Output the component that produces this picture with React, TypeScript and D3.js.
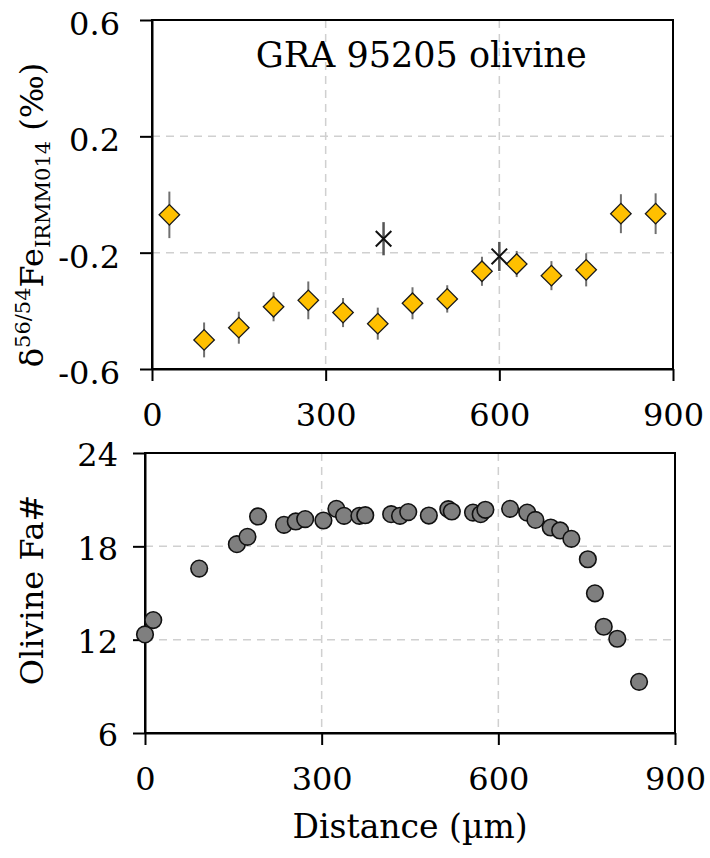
import { useRef, useEffect } from 'react';
import * as d3 from 'd3';

// top panel: Fe isotope profile
const FE_DIST = [30, 90, 150, 210, 270, 330, 390, 450, 510, 570, 630, 690, 750, 810, 870];
const FE_DELTA = [-0.07, -0.5, -0.458, -0.386, -0.364, -0.406, -0.444, -0.374, -0.359, -0.264, -0.239, -0.279, -0.259, -0.066, -0.066];
const FE_ERR = [0.08, 0.06, 0.055, 0.05, 0.065, 0.05, 0.055, 0.055, 0.047, 0.05, 0.045, 0.05, 0.057, 0.067, 0.07];

const STAR_DIST = [400, 600];
const STAR_DELTA = [-0.152, -0.213];
const STAR_ERR = [0.057, 0.05];

// bottom panel: olivine Fa# profile
const FA_DIST = [0, 14, 92, 156, 174, 192, 236, 256, 272, 303, 325, 338, 364, 374, 418, 433, 447, 482, 515, 521, 557, 570, 578, 620, 649, 663, 689, 705, 724, 752, 764, 779, 802, 839];
const FA_VAL = [12.34, 13.26, 16.57, 18.14, 18.61, 19.92, 19.38, 19.6, 19.75, 19.66, 20.41, 19.96, 19.96, 20.0, 20.07, 19.96, 20.2, 19.98, 20.39, 20.24, 20.17, 20.07, 20.35, 20.41, 20.17, 19.7, 19.21, 19.02, 18.48, 17.17, 14.98, 12.83, 12.06, 9.29];

const X_TICKS = [0, 300, 600, 900];
const FE_TICKS = [-0.6, -0.2, 0.2, 0.6];
const FA_TICKS = [6, 12, 18, 24];

const TITLE = 'GRA 95205 olivine';
const X_LABEL = 'Distance (µm)';
const FA_LABEL = 'Olivine Fa#';

const FONT = '"DejaVu Serif", serif';

export default function App() {
  const svgRef = useRef<SVGSVGElement>(null);

  useEffect(() => {
    if (!svgRef.current) return;
    const svg = d3.select(svgRef.current);
    svg.selectAll('*').remove();

    const grid = '#d0d0d0';

    function panel(
      left: number, right: number, top: number, bottom: number,
      yDomain: [number, number], yTicks: number[], yPad: number, yDy: number,
      fmt: (v: number) => string,
    ) {
      const x = d3.scaleLinear().domain([0, 900]).range([left, right]);
      const y = d3.scaleLinear().domain(yDomain).range([bottom, top]);
      const g = svg.append('g');

      // grid
      g.selectAll('line.vg')
        .data(X_TICKS.slice(1, -1))
        .join('line')
        .attr('x1', (d) => x(d)).attr('x2', (d) => x(d))
        .attr('y1', top).attr('y2', bottom)
        .attr('stroke', grid).attr('stroke-width', 1.5).attr('stroke-dasharray', '8,6');
      g.selectAll('line.hg')
        .data(yTicks.slice(1, -1))
        .join('line')
        .attr('x1', left).attr('x2', right)
        .attr('y1', (d) => y(d)).attr('y2', (d) => y(d))
        .attr('stroke', grid).attr('stroke-width', 1.5).attr('stroke-dasharray', '8,6');

      // box
      g.append('rect')
        .attr('x', left).attr('y', top)
        .attr('width', right - left).attr('height', bottom - top)
        .attr('fill', 'none').attr('stroke', '#000').attr('stroke-width', 2);

      const ax = g.append('g')
        .attr('transform', `translate(0,${bottom})`)
        .call(d3.axisBottom(x).tickValues(X_TICKS).tickSize(12).tickSizeOuter(0).tickPadding(22).tickFormat((d) => String(d)));
      const ay = g.append('g')
        .attr('transform', `translate(${left},0)`)
        .call(d3.axisLeft(y).tickValues(yTicks).tickSize(12).tickSizeOuter(0).tickPadding(yPad).tickFormat((d) => fmt(d as number)));

      [ax, ay].forEach((a) => {
        a.select('.domain').attr('stroke', '#000').attr('stroke-width', 2);
        a.selectAll('.tick line').attr('stroke', '#000').attr('stroke-width', 2);
        a.selectAll('.tick text')
          .attr('fill', '#000')
          .attr('font-family', FONT)
          .attr('font-size', 32);
      });
      ay.selectAll('.tick text').attr('dy', yDy);

      return { x, y, g };
    }

    // ---- top panel
    const top = panel(152, 673, 20, 369, [-0.6, 0.6], FE_TICKS, 20, '0.45em', (v) => (v === 0 ? '0' : v.toFixed(1)));

    top.g.append('text')
      .attr('x', top.x(465)).attr('y', 67)
      .attr('text-anchor', 'middle')
      .attr('font-family', FONT).attr('font-size', 35)
      .text(TITLE);

    // error bars
    top.g.selectAll('line.err')
      .data(FE_DIST.map((d, i) => i))
      .join('line')
      .attr('x1', (i) => top.x(FE_DIST[i])).attr('x2', (i) => top.x(FE_DIST[i]))
      .attr('y1', (i) => top.y(FE_DELTA[i] - FE_ERR[i]))
      .attr('y2', (i) => top.y(FE_DELTA[i] + FE_ERR[i]))
      .attr('stroke', '#707070').attr('stroke-width', 2);

    const diamond = d3.symbol().type(d3.symbolSquare).size(210);
    top.g.selectAll('path.dia')
      .data(FE_DIST.map((d, i) => i))
      .join('path')
      .attr('d', diamond)
      .attr('transform', (i) => `translate(${top.x(FE_DIST[i])},${top.y(FE_DELTA[i])}) rotate(45)`)
      .attr('fill', '#ffc000').attr('stroke', '#1a1a1a').attr('stroke-width', 1.3);

    top.g.selectAll('line.serr')
      .data(STAR_DIST.map((d, i) => i))
      .join('line')
      .attr('x1', (i) => top.x(STAR_DIST[i])).attr('x2', (i) => top.x(STAR_DIST[i]))
      .attr('y1', (i) => top.y(STAR_DELTA[i] - STAR_ERR[i]))
      .attr('y2', (i) => top.y(STAR_DELTA[i] + STAR_ERR[i]))
      .attr('stroke', '#555').attr('stroke-width', 2.5);

    const cross = d3.symbol().type(d3.symbolX).size(160);
    top.g.selectAll('path.star')
      .data(STAR_DIST.map((d, i) => i))
      .join('path')
      .attr('d', cross)
      .attr('transform', (i) => `translate(${top.x(STAR_DIST[i])},${top.y(STAR_DELTA[i])})`)
      .attr('fill', 'none').attr('stroke', '#111').attr('stroke-width', 2);

    // y label top
    const yl = top.g.append('text')
      .attr('transform', 'translate(43,215) rotate(-90)')
      .attr('text-anchor', 'middle')
      .attr('font-family', FONT).attr('font-size', 32);
    yl.append('tspan').text('δ');
    yl.append('tspan').attr('font-size', 21).attr('dy', -13).text('56/54');
    yl.append('tspan').attr('dy', 13).text('Fe');
    yl.append('tspan').attr('font-size', 21).attr('dy', 7).text('IRMM014');
    yl.append('tspan').attr('dy', -7).text(' (‰)');

    // ---- bottom panel
    const bot = panel(145, 675, 453, 733, [6, 24], FA_TICKS, 15, '0.4em', (v) => String(v));

    bot.g.selectAll('circle.fa')
      .data(FA_DIST.map((d, i) => i))
      .join('circle')
      .attr('cx', (i) => bot.x(FA_DIST[i]))
      .attr('cy', (i) => bot.y(FA_VAL[i]))
      .attr('r', 8.3)
      .attr('fill', '#7f7f7f').attr('stroke', '#111').attr('stroke-width', 1.6);

    bot.g.append('text')
      .attr('transform', 'translate(43,590) rotate(-90)')
      .attr('text-anchor', 'middle')
      .attr('font-family', FONT).attr('font-size', 32)
      .text(FA_LABEL);

    bot.g.append('text')
      .attr('x', 410).attr('y', 838)
      .attr('text-anchor', 'middle')
      .attr('font-family', FONT).attr('font-size', 33)
      .text(X_LABEL);
  }, []);

  return (
    <svg
      ref={svgRef}
      width={710}
      height={858}
      style={{ position: 'absolute', left: 0, top: 0, background: '#fff' }}
    />
  );
}
